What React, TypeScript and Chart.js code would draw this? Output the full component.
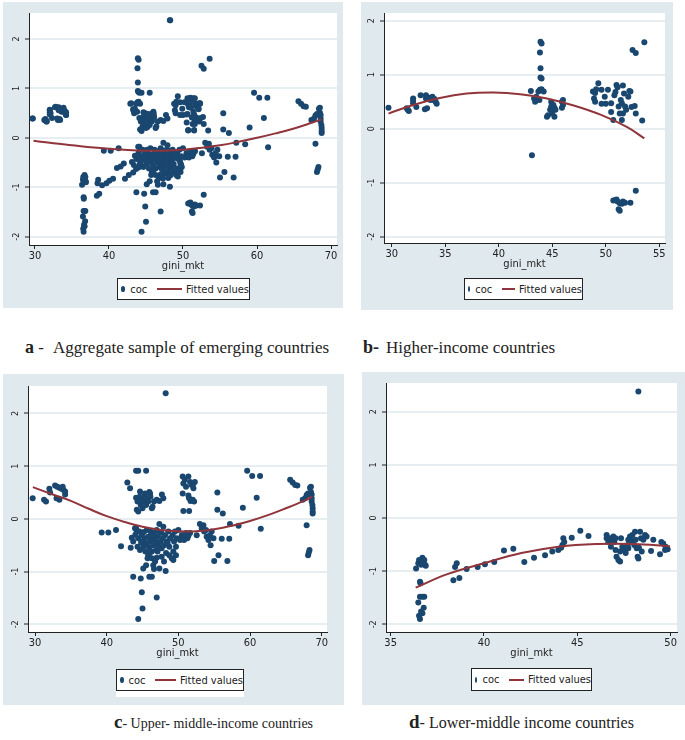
import React, { useEffect, useRef } from "react";
import { Chart, registerables } from "chart.js";

Chart.register(...registerables);

// ---------- data ----------
const yTicks = [-2, -1, 0, 1, 2];
const aggregateXTicks = [30, 40, 50, 60, 70];
const higherXTicks = [30, 35, 40, 45, 50, 55];
const upperXTicks = [30, 40, 50, 60, 70];
const lowerXTicks = [35, 40, 45, 50];

// b - Higher-income countries: [gini_mkt, coc]
const higherIncomePoints: number[][] = [
  [29.7, 0.39], [31.4, 0.38], [31.6, 0.33], [31.5, 0.35], [32.0, 0.56], [32.0, 0.52], [32.0, 0.47], [32.3, 0.4],
  [32.7, 0.62], [33.2, 0.62], [33.1, 0.36], [33.3, 0.38], [33.2, 0.56], [33.6, 0.53], [33.8, 0.59], [33.9, 0.53],
  [34.1, 0.5], [34.2, 0.46], [34.0, 0.55], [33.4, 0.58],
  [43.0, 0.7], [43.1, -0.49], [43.3, 0.56], [43.4, 0.5], [43.5, 0.59], [43.7, 0.69], [43.8, 0.53], [43.9, 1.61],
  [44.0, 1.58], [43.85, 1.41], [43.9, 1.12], [43.9, 0.95], [44.0, 0.93], [44.0, 0.73], [44.2, 0.69], [43.85, 0.72],
  [44.5, 0.22], [44.6, 0.25], [44.8, 0.35], [44.9, 0.5], [44.9, 0.41], [45.1, 0.44], [45.0, 0.28], [45.2, 0.22],
  [45.3, 0.35], [45.2, 0.39], [45.9, 0.5], [46.0, 0.53], [45.9, 0.39], [46.0, 0.44],
  [48.8, 0.69], [49.0, 0.66], [48.9, 0.56], [49.0, 0.5], [49.1, 0.73], [49.3, 0.84], [49.6, 0.72], [49.6, 0.46],
  [49.9, 0.59], [50.0, 0.46], [50.2, 0.72], [50.5, 0.31], [50.5, 0.47], [50.7, 0.16], [50.8, 0.62], [50.9, 0.68],
  [51.0, 0.81], [51.1, 0.77], [51.2, 0.41], [51.3, 0.28], [51.5, 0.47], [51.5, 0.16], [51.6, 0.8], [51.7, 0.65],
  [51.8, 0.41], [51.9, 0.35], [52.1, 0.59], [52.2, 0.7], [52.3, 0.69], [52.4, 0.4], [52.7, 0.42], [52.8, 0.28],
  [53.4, 0.15], [52.5, 1.46], [52.8, 1.4], [53.6, 1.6], [51.6, 0.28], [51.4, 0.53],
  [50.7, -1.33], [50.9, -1.32], [51.0, -1.31], [51.1, -1.35], [51.3, -1.38], [51.2, -1.49], [51.3, -1.52],
  [51.5, -1.39], [51.6, -1.35], [51.8, -1.37], [52.3, -1.37], [52.8, -1.15],
];

// c - Upper-middle-income countries
const upperMiddlePoints: number[][] = [
  [29.67, 0.39], [31.26, 0.36], [31.53, 0.33], [32.0, 0.57], [32.1, 0.5], [32.8, 0.63], [33.1, 0.61], [33.4, 0.59],
  [33.0, 0.39], [33.4, 0.36], [33.7, 0.57], [33.95, 0.55], [34.2, 0.52], [34.2, 0.46], [33.86, 0.61],
  [39.3, -0.26], [40.23, -0.26], [41.3, -0.21], [42.0, -0.52],
  [42.88, 0.69], [43.26, 0.58], [44.1, 0.91], [44.4, 0.91], [45.5, 0.91], [44.1, 0.4], [44.2, 0.17], [44.4, 0.14],
  [44.3, 0.33], [44.6, 0.42], [44.65, 0.52], [44.9, 0.36], [44.75, 0.26], [45.1, 0.33], [45.2, 0.42], [45.35, 0.48],
  [45.5, 0.26], [45.8, 0.33], [45.95, 0.51], [46.05, 0.48], [46.3, 0.2], [46.4, 0.23], [46.6, 0.33], [46.98, 0.36],
  [47.35, 0.34], [47.7, 0.46], [47.9, 0.39], [45.6, 0.39], [46.1, 0.42], [45.0, 0.2],
  [43.5, -0.36], [43.35, -0.55], [43.7, -0.43], [43.95, -0.18], [44.2, -0.24], [44.3, -0.53], [44.4, -0.37],
  [44.65, -0.59], [44.9, -0.31], [45.0, -0.43], [45.1, -0.53], [45.3, -0.37], [45.4, -0.62], [45.6, -0.21],
  [45.7, -0.46], [45.8, -0.34], [45.95, -0.55], [46.05, -0.43], [46.15, -0.24], [46.3, -0.62], [46.4, -0.37],
  [46.5, -0.5], [46.6, -0.27], [46.75, -0.4], [46.9, -0.59], [46.98, -0.21], [47.07, -0.34], [47.2, -0.5],
  [47.35, -0.1], [47.44, -0.27], [47.53, -0.43], [47.67, -0.56], [47.8, -0.37], [47.9, -0.15], [48.0, -0.5],
  [48.14, -0.31], [48.28, -0.65], [48.37, -0.43], [48.6, -0.24], [48.74, -0.53], [48.84, -0.37], [49.07, -0.75],
  [49.2, -0.31], [49.3, -0.62], [49.4, -0.43], [49.53, -0.24], [49.67, -0.53], [49.77, -0.37], [50.0, -0.21],
  [50.23, -0.4], [50.47, -0.31], [45.5, -0.88], [45.1, -0.94], [45.7, -0.75], [46.3, -0.75], [46.5, -0.88],
  [46.75, -0.81], [46.98, -0.74], [47.35, -0.94], [47.67, -0.72], [48.23, -0.99], [46.6, -0.95], [45.8, -0.69],
  [44.55, -0.24], [44.1, -0.18], [49.3, -0.78], [48.74, -0.69], [48.0, -0.81], [49.67, -0.69],
  [44.0, -0.3], [44.8, -0.45], [45.2, -0.25], [45.5, -0.5], [46.2, -0.3], [46.9, -0.45], [47.6, -0.25],
  [48.5, -0.45], [47.1, -0.62], [46.0, -0.65],
  [43.7, -1.1], [44.75, -1.13], [44.9, -1.39], [45.0, -1.7], [44.4, -1.9], [46.98, -1.49], [45.95, -1.1], [46.3, -1.1],
  [48.23, 2.38],
  [50.6, 0.8], [50.7, 0.67], [50.9, 0.74], [51.07, 0.61], [51.4, 0.8], [51.63, 0.7], [51.86, 0.64], [52.1, 0.67],
  [52.3, 0.7], [50.6, 0.48], [51.4, 0.44], [51.5, 0.39], [51.7, 0.34], [52.0, 0.36], [52.2, 0.33], [50.7, 0.15],
  [51.5, 0.15], [52.1, 0.58],
  [50.6, -0.31], [50.8, -0.4], [51.07, -0.27], [51.26, -0.37], [51.4, -0.32], [51.63, -0.27], [52.56, -0.31],
  [53.0, -0.1], [53.26, -0.18], [53.5, -0.12], [53.6, -0.24], [53.86, -0.21], [53.95, -0.34], [54.2, -0.4],
  [54.4, -0.31], [54.5, -0.5], [54.9, -0.37], [54.65, -0.24], [55.0, -0.8], [55.6, -0.69], [55.44, 0.5],
  [55.44, 0.17], [56.2, 0.1], [56.05, -0.38], [56.84, -0.8], [57.1, -0.38], [57.2, -0.1], [58.4, -0.13],
  [59.0, 0.21], [59.6, 0.91], [60.3, 0.81], [60.93, 0.4], [61.4, 0.81], [61.5, -0.19],
  [65.6, 0.74], [65.95, 0.69], [66.3, 0.64], [66.6, 0.63], [67.35, 0.36], [67.7, 0.39], [67.9, 0.45], [68.1, 0.48],
  [68.37, 0.59], [68.5, 0.51], [68.6, 0.46], [68.5, 0.61], [68.6, 0.33], [68.7, 0.26], [68.74, 0.2], [68.74, 0.14],
  [68.74, 0.1], [67.9, -0.12], [68.1, -0.69], [68.3, -0.59], [68.2, -0.64], [68.6, 0.39],
];

// d - Lower-middle income countries
const lowerMiddlePoints: number[][] = [
  [36.36, -0.95], [36.48, -0.85], [36.52, -0.79], [36.66, -0.82], [36.7, -0.75], [36.8, -0.79], [36.84, -0.88],
  [36.88, -0.9], [36.63, -0.88], [36.57, -1.2], [36.6, -1.23], [36.48, -1.59], [36.57, -1.48], [36.7, -1.48],
  [36.8, -1.48], [36.77, -1.69], [36.63, -1.76], [36.7, -1.79], [36.57, -1.9], [36.52, -1.84],
  [38.36, -1.17], [38.45, -0.92], [38.54, -0.85], [38.68, -1.13], [39.07, -0.96], [39.66, -0.92], [40.05, -0.87],
  [40.55, -0.83], [41.07, -0.61], [41.57, -0.58], [42.16, -0.83], [42.68, -0.75], [43.27, -0.7], [43.66, -0.63],
  [43.98, -0.6], [44.13, -0.56], [44.2, -0.51], [44.25, -0.38], [44.3, -0.45], [44.7, -0.37], [45.16, -0.24],
  [45.6, -0.34],
  [46.57, -0.32], [46.66, -0.45], [46.75, -0.38], [46.8, -0.54], [46.93, -0.35], [46.98, -0.45], [47.05, -0.6],
  [47.1, -0.73], [47.2, -0.79], [47.29, -0.63], [47.29, -0.82], [47.34, -0.38], [47.41, -0.54], [47.52, -0.6],
  [47.59, -0.66], [47.7, -0.51], [47.73, -0.41], [47.82, -0.35], [47.91, -0.43], [47.95, -0.32], [48.05, -0.51],
  [48.09, -0.26], [48.12, -0.41], [48.18, -0.57], [48.23, -0.73], [48.27, -0.76], [48.3, -0.56], [48.36, -0.26],
  [48.41, -0.38], [48.45, -0.63], [48.54, -0.41], [48.63, -0.32], [48.71, -0.35], [48.95, -0.62], [49.07, -0.41],
  [49.43, -0.68], [49.5, -0.45], [49.6, -0.48], [49.7, -0.6], [49.84, -0.59], [49.73, -0.54], [46.84, -0.41],
  [46.57, -0.38], [47.05, -0.38], [47.73, -0.57],
  [48.27, 2.38],
];

// a - aggregate sample = all three groups together
const aggregatePoints: number[][] = [...higherIncomePoints, ...upperMiddlePoints, ...lowerMiddlePoints];

// fitted values (quadratic fit lines)
const aggregateFitX = [29.8, 32.5, 35, 37.5, 40, 42.5, 45, 47.5, 50, 52.5, 55, 57.5, 60, 62.5, 65, 67.5, 68.7];
const aggregateFitY = [-0.06, -0.11, -0.15, -0.19, -0.22, -0.245, -0.26, -0.26, -0.24, -0.2, -0.15, -0.08, 0.0, 0.09, 0.19, 0.31, 0.37];
const higherFitX = [29.7, 32, 34.5, 37, 39.5, 42, 44.5, 47, 49.5, 52, 53.6];
const higherFitY = [0.28, 0.44, 0.57, 0.65, 0.67, 0.64, 0.56, 0.43, 0.26, 0.03, -0.18];
const upperFitX = [29.7, 32.5, 35, 37.5, 40, 42.5, 45, 47.5, 50, 52.5, 55, 57.5, 60, 62.5, 65, 67.5, 68.7];
const upperFitY = [0.6, 0.46, 0.34, 0.19, 0.05, -0.06, -0.15, -0.21, -0.235, -0.235, -0.2, -0.13, -0.04, 0.07, 0.2, 0.34, 0.42];
const lowerFitX = [36.34, 38, 40, 42, 44, 46, 48, 49.96];
const lowerFitY = [-1.31, -1.06, -0.85, -0.66, -0.54, -0.49, -0.49, -0.53];

// ---------- styles ----------
const NAVY = "#1a476f";
const MAROON = "#90353b";
const PANEL_BG = "#e0e9ed";
const GRID = "#e6eef1";
const INK = "#222222";
const AXIS_FONT = "'Liberation Sans Narrow', 'DejaVu Sans Condensed', 'Liberation Sans', Arial, sans-serif";
const SERIF = "'Liberation Serif', 'Times New Roman', serif";
const X_AXIS_H = 30;

type Box = { l: number; t: number; w: number; h: number };
type PanelSpec = {
  points: number[][];
  fitX: number[];
  fitY: number[];
  xTicks: number[];
  grey: Box;
  area: { l: number; t: number; r: number; b: number };
  xMin: number;
  xMax: number;
  yMin: number;
  yMax: number;
  legend: Box;
};

const panels: PanelSpec[] = [
  {
    points: aggregatePoints, fitX: aggregateFitX, fitY: aggregateFitY, xTicks: aggregateXTicks,
    grey: { l: 3, t: 2, w: 340, h: 306 },
    area: { l: 29, t: 13, r: 337, b: 245 },
    xMin: 29.19, xMax: 70.81, yMin: -2.168, yMax: 2.526,
    legend: { l: 117, t: 278, w: 133, h: 22 },
  },
  {
    points: higherIncomePoints, fitX: higherFitX, fitY: higherFitY, xTicks: higherXTicks,
    grey: { l: 361, t: 2, w: 312, h: 308 },
    area: { l: 384, t: 13, r: 665, b: 243 },
    xMin: 29.28, xMax: 55.53, yMin: -2.117, yMax: 2.143,
    legend: { l: 464, t: 278, w: 119, h: 22 },
  },
  {
    points: upperMiddlePoints, fitX: upperFitX, fitY: upperFitY, xTicks: upperXTicks,
    grey: { l: 3, t: 374, w: 341, h: 331 },
    area: { l: 28, t: 386, r: 327, b: 632 },
    xMin: 29.02, xMax: 70.74, yMin: -2.146, yMax: 2.518,
    legend: { l: 116, t: 669, w: 128, h: 22 },
  },
  {
    points: lowerMiddlePoints, fitX: lowerFitX, fitY: lowerFitY, xTicks: lowerXTicks,
    grey: { l: 362, t: 372, w: 323, h: 333 },
    area: { l: 386, t: 383, r: 677, b: 632 },
    xMin: 34.75, xMax: 50.34, yMin: -2.145, yMax: 2.54,
    legend: { l: 471, t: 668, w: 121, h: 23 },
  },
];

function ScatterPanel({ spec }: { spec: PanelSpec }) {
  const ref = useRef<HTMLCanvasElement | null>(null);
  const canvasW = spec.grey.w;
  const canvasH = spec.area.b + X_AXIS_H - spec.grey.t;

  useEffect(() => {
    if (!ref.current) return;
    const whiteArea = {
      id: "whiteArea",
      beforeDraw(chart: any) {
        const { ctx, chartArea: a } = chart;
        ctx.save();
        ctx.fillStyle = "#ffffff";
        ctx.fillRect(a.left, a.top, a.right - a.left, a.bottom - a.top);
        ctx.restore();
      },
    };
    const chart = new Chart(ref.current, {
      type: "scatter",
      data: {
        datasets: [
          {
            type: "line",
            label: "Fitted values",
            data: spec.fitX.map((x, i) => ({ x, y: spec.fitY[i] })),
            borderColor: MAROON,
            backgroundColor: MAROON,
            borderWidth: 2,
            pointRadius: 0,
            tension: 0.4,
            fill: false,
            order: 0,
          } as any,
          {
            type: "scatter",
            label: "coc",
            data: spec.points.map(([x, y]) => ({ x, y })),
            backgroundColor: NAVY,
            borderColor: NAVY,
            borderWidth: 0,
            pointRadius: 3,
            pointHoverRadius: 3,
            order: 1,
          } as any,
        ],
      },
      options: {
        responsive: false,
        maintainAspectRatio: false,
        animation: false,
        events: [],
        layout: {
          autoPadding: false,
          padding: {
            left: 0,
            top: spec.area.t - spec.grey.t,
            right: spec.grey.l + spec.grey.w - spec.area.r,
            bottom: 0,
          },
        },
        plugins: { legend: { display: false }, tooltip: { enabled: false } },
        scales: {
          x: {
            type: "linear",
            position: "bottom",
            min: spec.xMin,
            max: spec.xMax,
            afterFit: (s: any) => { s.height = X_AXIS_H; },
            afterBuildTicks: (s: any) => { s.ticks = spec.xTicks.map((v) => ({ value: v })); },
            grid: { drawOnChartArea: false, drawTicks: true, tickLength: 4, tickColor: INK, tickWidth: 1, lineWidth: 1 },
            border: { display: true, color: INK, width: 1 },
            ticks: {
              padding: 1, color: INK, autoSkip: false, maxRotation: 0, minRotation: 0,
              font: { family: AXIS_FONT, size: 11 },
            },
            title: {
              display: true, text: "gini_mkt", color: INK,
              font: { family: AXIS_FONT, size: 11 }, padding: { top: 0, bottom: 2 },
            },
          },
          y: {
            type: "linear",
            position: "left",
            min: spec.yMin,
            max: spec.yMax,
            afterFit: (s: any) => { s.width = spec.area.l - spec.grey.l; },
            afterBuildTicks: (s: any) => { s.ticks = yTicks.map((v) => ({ value: v })); },
            grid: { color: GRID, lineWidth: 2, drawTicks: true, tickLength: 4, tickColor: INK, tickWidth: 1 },
            border: { display: true, color: INK, width: 1 },
            ticks: {
              padding: 4, color: INK, autoSkip: false, minRotation: 90, maxRotation: 90,
              crossAlign: "center",
              font: { family: AXIS_FONT, size: 9 },
            },
          },
        },
      } as any,
      plugins: [whiteArea],
    });
    return () => chart.destroy();
  }, [spec]);

  const lg = spec.legend;
  return (
    <>
      <div
        style={{
          position: "absolute", left: spec.grey.l, top: spec.grey.t,
          width: spec.grey.w, height: spec.grey.h, background: PANEL_BG,
        }}
      />
      <canvas
        ref={ref}
        width={canvasW}
        height={canvasH}
        style={{ position: "absolute", left: spec.grey.l, top: spec.grey.t, width: canvasW, height: canvasH }}
      />
      <div
        style={{
          position: "absolute", left: lg.l, top: lg.t, width: lg.w, height: lg.h,
          boxSizing: "border-box", background: "#ffffff", border: `1px solid ${INK}`,
          display: "flex", alignItems: "center", fontFamily: AXIS_FONT, fontSize: 11, color: INK,
          whiteSpace: "nowrap", overflow: "hidden",
        }}
      >
        <span style={{ display: "inline-block", width: 6, height: 6, borderRadius: "50%", background: NAVY, marginLeft: 3 }} />
        <span style={{ marginLeft: 5 }}>coc</span>
        <span style={{ display: "inline-block", width: 35, height: 2, background: MAROON, marginLeft: 10 }} />
        <span style={{ marginLeft: 4 }}>Fitted values</span>
      </div>
    </>
  );
}

function Caption({ left, top, letter, sep, text, size, letterSize, gap }: {
  left: number; top: number; letter: string; sep: string; text: string; size: number; letterSize: number; gap: number;
}) {
  return (
    <div
      style={{
        position: "absolute", left, top, fontFamily: SERIF, fontSize: size, lineHeight: "20px",
        color: "#222", whiteSpace: "nowrap",
      }}
    >
      <b style={{ fontSize: letterSize }}>{letter}</b>
      <span>{sep}</span>
      <span style={{ marginLeft: gap }}>{text}</span>
    </div>
  );
}

export default function App() {
  return (
    <div style={{ position: "absolute", left: 0, top: 0, width: 685, height: 740, background: "#ffffff", overflow: "hidden" }}>
      {panels.map((p, i) => (
        <ScatterPanel key={i} spec={p} />
      ))}
      <div style={{ position: "absolute", left: 116, top: 691, width: 128, height: 6, background: "#ffffff" }} />
      <Caption left={25} top={337} letter="a" sep=" -" text="Aggregate sample of emerging countries" size={17} letterSize={18} gap={9} />
      <Caption left={363} top={337} letter="b-" sep="" text="Higher-income countries" size={17} letterSize={18} gap={7} />
      <Caption left={114} top={712} letter="c" sep="- " text="Upper- middle-income countries" size={14} letterSize={19} gap={0} />
      <Caption left={409} top={712} letter="d" sep="- " text="Lower-middle income countries" size={16} letterSize={19} gap={0} />
    </div>
  );
}
